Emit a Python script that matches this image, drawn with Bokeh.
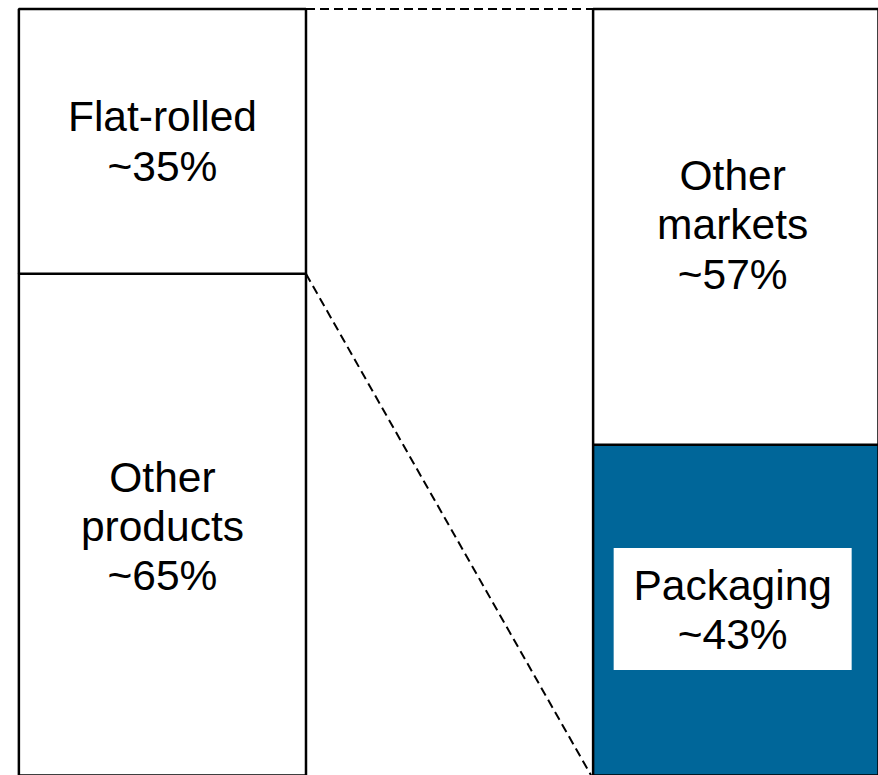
from bokeh.plotting import figure
from bokeh.models import Range1d, ColumnDataSource
from bokeh.core.properties import value
from bokeh.embed import file_html
from bokeh.resources import INLINE

# ---- data ----
left_labels = ["Other\nproducts\n~65%", "Flat-rolled\n~35%"]
left_values = [65.6, 34.4]          # bottom -> top
right_labels = ["Packaging\n~43%", "Other\nmarkets\n~57%"]
right_values = [43.4, 56.6]         # bottom -> top
right_colors = ["#006699", "#ffffff"]
left_colors = ["#ffffff", "#ffffff"]
bar_x = [0, 1]

FONT = value("Liberation Sans")

W, H = 878, 775
XR = (-0.282, 1.247)
YR = (0.45, 101.1)
px_x = W / (XR[1] - XR[0])   # pixels per x unit
px_y = H / (YR[1] - YR[0])   # pixels per y unit

p = figure(width=W, height=H, output_backend="svg", toolbar_location=None,
           x_range=Range1d(*XR), y_range=Range1d(*YR),
           min_border=0, min_border_left=0, min_border_right=0,
           min_border_top=0, min_border_bottom=0)
p.axis.visible = False
p.grid.visible = False
p.outline_line_color = None
p.background_fill_color = "white"
p.border_fill_color = "white"


def stack(vals):
    bottoms, tops, acc = [], [], 0.0
    for v in vals:
        bottoms.append(acc)
        acc += v
        tops.append(acc)
    return bottoms, tops


lb, lt = stack(left_values)
rb, rt = stack(right_values)

BW = 0.5

# connectors (dashed): top of left bar to top of right bar; top of 'Other products' to bottom of right bar
p.segment(x0=[bar_x[0] + BW / 2, bar_x[0] + BW / 2],
          y0=[lt[-1], lt[0]],
          x1=[bar_x[1] - BW / 2, bar_x[1] - BW / 2],
          y1=[rt[-1], rb[0]],
          line_color="black", line_width=2, line_dash="9 5")

left_src = ColumnDataSource(dict(x=[bar_x[0]] * 2, bottom=lb, top=lt, color=left_colors,
                                 label=left_labels, mid=[(b + t) / 2 for b, t in zip(lb, lt)]))
right_src = ColumnDataSource(dict(x=[bar_x[1]] * 2, bottom=rb, top=rt, color=right_colors,
                                  label=right_labels, mid=[(b + t) / 2 for b, t in zip(rb, rt)]))

for src in (left_src, right_src):
    p.vbar(x="x", bottom="bottom", top="top", width=BW, source=src,
           fill_color="color", line_color="black", line_width=2.5)

# white label box on the packaging segment (shifted 4px left, 3px up)
p.rect(x=[bar_x[1] - 4 / px_x], y=[right_src.data["mid"][0] + 3 / px_y],
       width=238, height=122, width_units="screen", height_units="screen",
       fill_color="white", line_color=None)

p.text(x="x", y="mid", text="label", source=left_src,
       text_font=FONT, text_font_size="42.5px", text_color="black",
       text_align="center", text_baseline="middle", text_line_height=1.05)
p.text(x="x", y="mid", text="label", source=right_src, x_offset=-4, y_offset=-2,
       text_font=FONT, text_font_size="42.5px", text_color="black",
       text_align="center", text_baseline="middle", text_line_height=1.05)

open("out.html", "w").write(file_html(p, INLINE))
